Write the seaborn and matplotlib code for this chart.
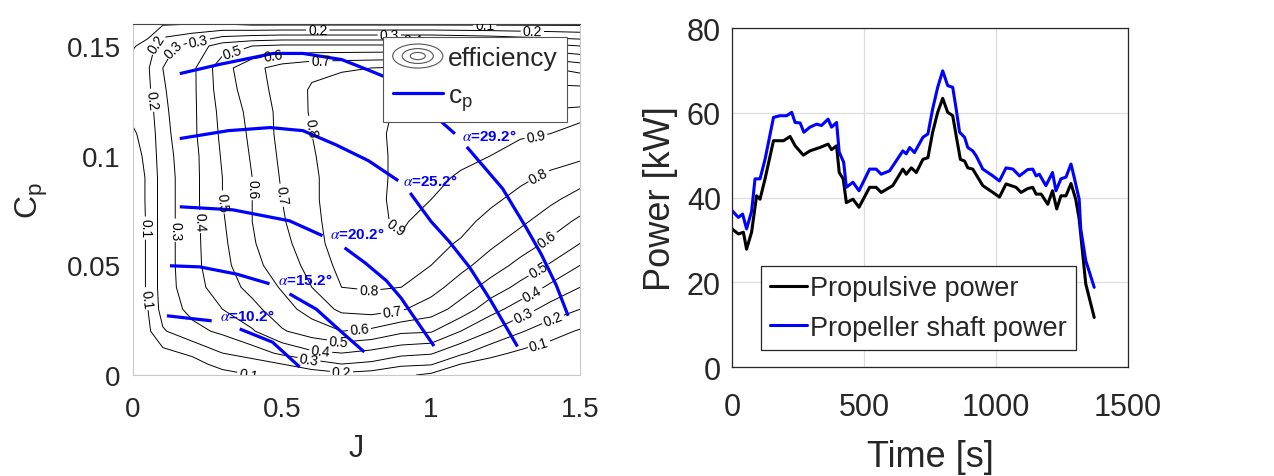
import numpy as np
import pandas as pd
import seaborn as sns
import matplotlib
matplotlib.use("Agg")
import matplotlib.pyplot as plt
from matplotlib.legend_handler import HandlerBase
from matplotlib.patches import Ellipse
from matplotlib.lines import Line2D

####Efficiency map (rows = Cp nodes, one list per J node)
J_nodes = [0, 0.05, 0.1, 0.2, 0.3, 0.4, 0.5, 0.6, 0.7, 0.8, 0.9, 1.0, 1.1, 1.2, 1.3, 1.4, 1.5]
Cp_nodes = [0, 0.005, 0.01, 0.02, 0.03, 0.04, 0.05, 0.06, 0.07, 0.08, 0.09,
            0.10, 0.11, 0.12, 0.13, 0.14, 0.15, 0.16]
eta_J000 = [0.00, 0.01, 0.02, 0.04, 0.05, 0.05, 0.05, 0.05, 0.05, 0.06, 0.06, 0.07, 0.09, 0.12, 0.16, 0.15, 0.09, 0.00]
eta_J005 = [0.00, 0.02, 0.04, 0.08, 0.10, 0.11, 0.11, 0.11, 0.11, 0.11, 0.11, 0.12, 0.13, 0.15, 0.18, 0.19, 0.14, 0.02]
eta_J010 = [0.00, 0.04, 0.07, 0.19, 0.24, 0.25, 0.25, 0.25, 0.25, 0.25, 0.25, 0.26, 0.27, 0.28, 0.29, 0.30, 0.27, 0.09]
eta_J020 = [0.00, 0.06, 0.12, 0.27, 0.33, 0.36, 0.37, 0.37, 0.37, 0.37, 0.37, 0.37, 0.38, 0.38, 0.38, 0.38, 0.34, 0.10]
eta_J030 = [0.06, 0.14, 0.20, 0.32, 0.40, 0.45, 0.47, 0.48, 0.49, 0.50, 0.50, 0.51, 0.52, 0.53, 0.55, 0.56, 0.45, 0.10]
eta_J040 = [0.10, 0.15, 0.25, 0.39, 0.47, 0.53, 0.57, 0.59, 0.60, 0.60, 0.60, 0.61, 0.62, 0.63, 0.65, 0.67, 0.50, 0.08]
eta_J050 = [0.12, 0.20, 0.32, 0.49, 0.56, 0.61, 0.65, 0.67, 0.69, 0.70, 0.71, 0.72, 0.73, 0.73, 0.74, 0.74, 0.52, 0.08]
eta_J060 = [0.15, 0.25, 0.38, 0.55, 0.64, 0.70, 0.73, 0.76, 0.77, 0.78, 0.78, 0.79, 0.80, 0.81, 0.81, 0.78, 0.52, 0.08]
eta_J070 = [0.17, 0.30, 0.40, 0.60, 0.72, 0.80, 0.83, 0.85, 0.86, 0.86, 0.86, 0.86, 0.86, 0.86, 0.84, 0.79, 0.52, 0.08]
eta_J080 = [0.15, 0.28, 0.37, 0.58, 0.74, 0.81, 0.86, 0.89, 0.885, 0.88, 0.875, 0.875, 0.88, 0.88, 0.86, 0.80, 0.52, 0.08]
eta_J090 = [0.12, 0.22, 0.33, 0.52, 0.71, 0.80, 0.85, 0.89, 0.91, 0.92, 0.92, 0.92, 0.92, 0.91, 0.89, 0.81, 0.52, 0.08]
eta_J100 = [0.08, 0.21, 0.31, 0.51, 0.65, 0.74, 0.80, 0.83, 0.87, 0.90, 0.92, 0.93, 0.93, 0.92, 0.88, 0.80, 0.52, 0.08]
eta_J110 = [0.00, 0.10, 0.22, 0.40, 0.56, 0.65, 0.73, 0.79, 0.83, 0.86, 0.89, 0.92, 0.93, 0.92, 0.87, 0.78, 0.50, 0.08]
eta_J120 = [0.00, 0.06, 0.13, 0.30, 0.44, 0.56, 0.65, 0.72, 0.77, 0.82, 0.86, 0.90, 0.92, 0.92, 0.86, 0.76, 0.48, 0.08]
eta_J130 = [0.00, 0.04, 0.08, 0.21, 0.35, 0.47, 0.57, 0.65, 0.72, 0.77, 0.82, 0.87, 0.91, 0.91, 0.84, 0.73, 0.45, 0.08]
eta_J140 = [0.00, 0.02, 0.05, 0.14, 0.26, 0.38, 0.49, 0.58, 0.65, 0.72, 0.78, 0.84, 0.90, 0.91, 0.83, 0.70, 0.43, 0.08]
eta_J150 = [0.00, 0.01, 0.03, 0.09, 0.20, 0.30, 0.40, 0.50, 0.58, 0.66, 0.74, 0.82, 0.88, 0.92, 0.83, 0.66, 0.40, 0.08]
eta_levels = [0.1, 0.2, 0.3, 0.4, 0.5, 0.6, 0.7, 0.8, 0.9]

####Cp curves for each pitch angle (nan = gap where the label sits)
nan = np.nan
alpha_labels = ["29.2", "25.2", "20.2", "15.2", "10.2"]
cp292_J = [0.157, 0.29, 0.47, 0.57, 0.70, 0.79, 0.88, 0.96, 1.03, 1.08, nan, 1.12, 1.24, 1.32, 1.37, 1.42, 1.46]
cp292_C = [0.1374, 0.1416, 0.1466, 0.1466, 0.1438, 0.139, 0.134, 0.126, 0.116, 0.110, nan, 0.104, 0.085, 0.067, 0.055, 0.041, 0.027]
cp252_J = [0.157, 0.32, 0.46, 0.57, 0.68, 0.79, 0.89, nan, 0.93, 1.0, 1.06, 1.13, 1.2, 1.29]
cp252_C = [0.1078, 0.1114, 0.1128, 0.1114, 0.105, 0.0977, 0.0886, nan, 0.083, 0.070, 0.061, 0.049, 0.034, 0.013]
cp202_J = [0.157, 0.335, 0.525, 0.636, nan, 0.71, 0.78, 0.85, 0.90, 0.94, 1.01]
cp202_C = [0.0767, 0.0753, 0.0703, 0.0635, nan, 0.058, 0.051, 0.043, 0.035, 0.027, 0.0132]
cp152_J = [0.124, 0.224, 0.348, 0.458, nan, 0.525, 0.615, 0.70, 0.776]
cp152_C = [0.0498, 0.0493, 0.046, 0.0416, nan, 0.037, 0.030, 0.0196, 0.0105]
cp102_J = [0.114, 0.264, nan, 0.358, 0.468, 0.559]
cp102_C = [0.027, 0.0247, nan, 0.021, 0.015, 0.0037]
alpha_text_J = [1.194, 0.997, 0.751, 0.577, 0.383]
alpha_text_C = [0.109, 0.0886, 0.0644, 0.0434, 0.027]

####Power traces
t_prop = [0, 24, 43, 55, 74, 93, 106, 125, 157, 195, 220, 239, 270, 295, 333, 364, 377, 396, 406, 421,
          433, 458, 481, 521, 546, 565, 609, 647, 660, 679, 698, 723, 742, 760, 779, 798, 817, 836, 849, 865,
          881, 893, 912, 950, 988, 1013, 1038, 1076, 1095, 1120, 1139, 1152, 1171, 1196, 1214, 1230, 1246,
          1265, 1284, 1302, 1315, 1340, 1372]
p_prop = [32.6, 31.4, 31.8, 27.8, 31.8, 40.4, 39.6, 44.4, 53.4, 53.4, 54.4, 52.2, 50.0, 51.0, 51.8, 52.6, 51.3, 52.2, 45.9, 44.4,
          38.8, 39.6, 37.7, 42.4, 42.4, 41.2, 42.8, 46.7, 45.5, 47.0, 45.9, 49.0, 49.4, 55.4, 60.1, 63.4, 60.1, 59.3, 54.6, 49.0,
          48.6, 47.0, 46.7, 42.8, 41.2, 40.1, 43.2, 42.4, 41.2, 42.1, 42.4, 40.8, 40.8, 38.4, 41.6, 37.3, 40.4,
          40.4, 43.3, 39.6, 34.9, 19.6, 11.7]
t_shaft = [0, 24, 40, 55, 74, 87, 106, 125, 157, 182, 207, 226, 239, 258, 272, 295, 320, 339, 364, 377,
           396, 406, 423, 433, 458, 481, 521, 546, 565, 597, 647, 660, 673, 691, 723, 742, 760, 779, 798, 817,
           836, 849, 862, 881, 893, 912, 925, 950, 988, 1013, 1038, 1064, 1089, 1120, 1139, 1152, 1164, 1189,
           1214, 1227, 1246, 1265, 1284, 1296, 1315, 1321, 1340, 1372]
p_shaft = [36.9, 35.3, 36.1, 32.6, 36.7, 44.4, 44.4, 49.0, 58.9, 59.3, 59.3, 60.1, 57.7, 57.6, 55.4, 56.6, 57.3, 57.0, 58.5, 56.6,
           57.7, 50.7, 48.3, 42.4, 43.6, 41.6, 46.7, 46.7, 45.5, 46.3, 51.0, 50.3, 51.8, 50.6, 54.2, 55.0, 60.9, 66.0, 69.9, 66.4,
           66.0, 60.9, 55.4, 54.2, 51.8, 51.0, 49.8, 46.7, 45.1, 43.9, 47.0, 46.7, 45.1, 46.6, 46.7, 45.1, 45.5, 42.8,
           45.9, 41.6, 44.4, 44.8, 47.9, 44.8, 39.6, 32.6, 25.1, 18.8]

####Where the contour values are written
clabel_pos = [(0.05, 0.067), (0.07, 0.152), (0.39, 0.002), (1.36, 0.015), (1.18, 0.159),
              (0.06, 0.035), (0.05, 0.125), (0.62, 0.157), (0.70, 0.002), (1.41, 0.025), (1.34, 0.156),
              (0.12, 0.150), (0.157, 0.066), (0.59, 0.007), (1.31, 0.027), (0.86, 0.155),
              (0.22, 0.152), (0.23, 0.070), (0.63, 0.011), (1.34, 0.037), (0.94, 0.153),
              (0.33, 0.149), (0.31, 0.079), (0.69, 0.016), (1.36, 0.048),
              (0.47, 0.146), (0.40, 0.085), (0.76, 0.020), (1.39, 0.062),
              (0.63, 0.143), (0.50, 0.082), (0.87, 0.029),
              (0.60, 0.113), (0.79, 0.037), (1.36, 0.091),
              (0.82, 0.058), (1.35, 0.110)]

sns.set_style("white")
plt.rcParams['font.family'] = ['Liberation Sans', 'DejaVu Sans']
plt.rcParams['mathtext.fontset'] = 'custom'
plt.rcParams['mathtext.rm'] = 'Liberation Sans'
plt.rcParams['mathtext.it'] = 'Liberation Sans:italic'
dark = '#262626'


class HandlerRings(HandlerBase):
    def create_artists(self, legend, orig_handle, xdescent, ydescent, width, height, fontsize, trans):
        cx = width / 2 - xdescent
        cy = height / 2 - ydescent
        out = []
        for f in (1.0, 0.62, 0.3):
            out.append(Ellipse((cx, cy), width * f, height * 1.3 * f, fill=False,
                               edgecolor='#555555', lw=0.8, transform=trans))
        return out


fig = plt.figure(figsize=(12.74, 4.77), dpi=100)
ax1 = fig.add_axes([0.1044, 0.2117, 0.3509, 0.7358])
ax2 = fig.add_axes([0.5746, 0.2285, 0.3108, 0.7107])

####Left: efficiency contours + Cp curves
eta = np.array([eta_J000, eta_J005, eta_J010, eta_J020, eta_J030, eta_J040, eta_J050, eta_J060,
                eta_J070, eta_J080, eta_J090, eta_J100, eta_J110, eta_J120, eta_J130, eta_J140,
                eta_J150]).T
cs = ax1.contour(J_nodes, Cp_nodes, eta, levels=eta_levels, colors='k', linewidths=0.7)
ax1.clabel(cs, fmt='%.1f', fontsize=10, manual=clabel_pos, inline=True, inline_spacing=2)

curves = [(cp292_J, cp292_C), (cp252_J, cp252_C), (cp202_J, cp202_C), (cp152_J, cp152_C), (cp102_J, cp102_C)]
for (cj, cc), lab, tj, tc in zip(curves, alpha_labels, alpha_text_J, alpha_text_C):
    ax1.plot(cj, cc, color='#0000ff', lw=2.3, solid_capstyle='butt')
    ax1.text(tj, tc, r'$\alpha$=' + lab + '°', color='#0000ff', fontsize=11, fontweight='bold',
             ha='center', va='center', math_fontfamily='stix')

ax1.set_xlim(0, 1.5)
ax1.set_ylim(0, 0.16)
ax1.set_xticks([0, 0.5, 1, 1.5])
ax1.set_xticklabels(['0', '0.5', '1', '1.5'])
ax1.set_yticks([0, 0.05, 0.1, 0.15])
ax1.set_yticklabels(['0', '0.05', '0.1', '0.15'])
ax1.tick_params(direction='in', length=4, color='#bbbbbb', labelsize=20, labelcolor=dark, pad=9)
ax1.tick_params(axis='x', pad=15)
for s in ['left', 'bottom', 'right']:
    ax1.spines[s].set_color('#c8c8c8')
ax1.spines['top'].set_color('#444444')
ax1.set_xlabel('J', fontsize=22, color=dark, labelpad=8)
ax1.set_ylabel(r'$\mathregular{C_p}$', fontsize=23, color=dark, labelpad=12)

h_eff = Line2D([], [], color='none')
h_cp = Line2D([], [], color='#0000ff', lw=2.3)
leg1 = ax1.legend([h_eff, h_cp], ['efficiency', r'$\mathregular{c_p}$'], handler_map={h_eff: HandlerRings()},
                  loc='upper right', bbox_to_anchor=(0.971, 0.963), fontsize=19, frameon=True, fancybox=False,
                  edgecolor='#555555', framealpha=1, handlelength=1.9, handletextpad=0.2, borderpad=0.35,
                  labelspacing=0.5, borderaxespad=0)
leg1.get_frame().set_linewidth(0.8)

####Right: power traces
prop_df = pd.DataFrame({'Time': t_prop, 'Power': p_prop})
shaft_df = pd.DataFrame({'Time': t_shaft, 'Power': p_shaft})
sns.lineplot(data=prop_df, x='Time', y='Power', ax=ax2, color='black', lw=2.2, sort=False,
             estimator=None, label='Propulsive power')
sns.lineplot(data=shaft_df, x='Time', y='Power', ax=ax2, color='#0000ff', lw=2.2, sort=False,
             estimator=None, label='Propeller shaft power')
ax2.set_xlim(0, 1500)
ax2.set_ylim(0, 80)
ax2.set_xticks([0, 500, 1000, 1500])
ax2.set_yticks([0, 20, 40, 60, 80])
ax2.grid(True, color='#dddddd', lw=0.9)
ax2.tick_params(direction='in', length=5, color=dark, labelsize=22, labelcolor=dark, pad=8)
ax2.tick_params(axis='x', pad=18)
for s in ax2.spines.values():
    s.set_color(dark)
    s.set_linewidth(0.9)
ax2.set_xlabel('Time [s]', fontsize=26, color=dark, labelpad=12)
ax2.set_ylabel('Power [kW]', fontsize=26, color=dark, labelpad=6)
leg2 = ax2.legend(loc='lower left', bbox_to_anchor=(0.073, 0.05), fontsize=19.5, frameon=True, fancybox=False,
                  edgecolor=dark, framealpha=1, handlelength=1.35, handletextpad=0.12, borderpad=0.35,
                  labelspacing=0.5, borderaxespad=0)
leg2.get_frame().set_linewidth(0.9)

fig.savefig('out.png', dpi=100)
